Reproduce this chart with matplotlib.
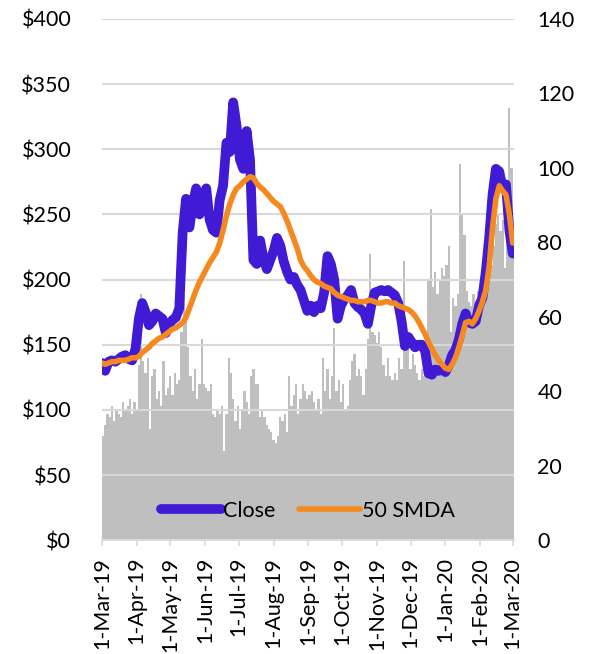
import matplotlib
matplotlib.use("Agg")
import matplotlib.pyplot as plt
import pandas as pd

plt.rcParams['font.family'] = ['Lato', 'DejaVu Sans']

# close price and 50 day average, sampled every 3 days from 1-Mar-19
close = [136, 130, 137, 138, 137, 139, 141, 142, 139, 138,
         147, 170, 182, 175, 165, 168, 174, 172, 170, 159,
         166, 169, 171, 178, 236, 262, 240, 258, 270, 250,
         262, 270, 246, 238, 236, 261, 272, 305, 298, 336,
         318, 292, 285, 314, 292, 215, 212, 230, 216, 208,
         215, 222, 232, 226, 214, 206, 200, 202, 196, 192,
         184, 176, 180, 175, 180, 178, 190, 218, 212, 200,
         170, 180, 185, 188, 192, 182, 179, 177, 174, 166,
         180, 190, 191, 192, 191, 192, 190, 188, 182, 168,
         149, 156, 152, 148, 150, 150, 145, 128, 127, 131,
         130, 131, 129, 134, 142, 146, 154, 166, 174, 167,
         166, 168, 180, 186, 206, 232, 265, 285, 283, 270,
         273, 238, 220]

sma50 = [136, 135, 136, 137, 137, 138, 138, 138, 139, 140,
         140, 141, 144, 146, 148, 151, 153, 155, 156, 158,
         160, 162, 163, 165, 167, 171, 178, 185, 192, 198,
         203, 208, 213, 217, 221, 228, 238, 249, 258, 265,
         270, 272, 275, 277, 279, 278, 274, 271, 269, 266,
         263, 260, 258, 256, 251, 245, 238, 231, 224, 215,
         210, 207, 203, 200, 198, 197, 195, 194, 193, 190,
         188, 187, 186, 185, 184, 184, 183, 183, 183, 184,
         184, 183, 182, 182, 183, 183, 182, 182, 180, 179,
         178, 177, 175, 172, 168, 163, 158, 152, 147, 142,
         138, 135, 132, 131, 135, 140, 148, 157, 167, 168,
         166, 170, 176, 183, 192, 210, 240, 262, 272, 268,
         265, 250, 228]

# grey series on the right axis, every 2 days
volume = [28, 31, 34, 33, 36, 32, 35, 34,
          33, 37, 35, 36, 38, 34, 37, 35,
          47, 66, 48, 45, 49, 30, 44, 46,
          38, 40, 36, 48, 39, 41, 44, 39,
          45, 42, 43, 56, 66, 60, 52, 44,
          40, 46, 38, 42, 54, 42, 41, 40,
          42, 34, 33, 35, 34, 36, 24, 34,
          49, 45, 38, 32, 36, 30, 35, 40,
          37, 34, 44, 46, 42, 42, 33, 35,
          33, 31, 30, 29, 27, 26, 28, 33,
          32, 34, 29, 44, 36, 39, 42, 34,
          38, 42, 40, 38, 39, 40, 37, 35,
          38, 34, 49, 40, 46, 38, 44, 57,
          40, 43, 37, 42, 35, 36, 43, 48,
          50, 44, 46, 44, 39, 46, 54, 77,
          56, 55, 53, 56, 52, 47, 44, 49,
          44, 43, 45, 43, 49, 46, 75, 52,
          54, 46, 50, 47, 45, 43, 46, 44,
          46, 70, 89, 68, 72, 66, 70, 73,
          71, 74, 79, 56, 65, 63, 66, 101,
          88, 82, 67, 64, 63, 66, 64, 67,
          65, 72, 75, 70, 78, 74, 79, 85,
          88, 83, 86, 73, 95, 116, 100, 80]

month_labels = ['1-Mar-19', '1-Apr-19', '1-May-19', '1-Jun-19', '1-Jul-19',
                '1-Aug-19', '1-Sep-19', '1-Oct-19', '1-Nov-19', '1-Dec-19',
                '1-Jan-20', '1-Feb-20', '1-Mar-20']
price_ticks = [0, 50, 100, 150, 200, 250, 300, 350, 400]
vol_ticks = [0, 20, 40, 60, 80, 100, 120, 140]

price_dates = pd.date_range('2019-03-01', periods=len(close), freq='3D')
vol_dates = pd.date_range('2019-03-01', periods=len(volume), freq='2D')
month_dates = pd.date_range('2019-03-01', periods=len(month_labels), freq='MS')

fig = plt.figure(figsize=(5.92, 6.54), dpi=100)
ax1 = fig.add_axes([0.172, 0.174, 0.696, 0.797])
ax2 = ax1.twinx()

# grey bars behind, price axis on top so grid and lines sit over them
ax2.bar(vol_dates, volume, width=2.0, align='edge', color='#bfbfbf', linewidth=0)
ax1.set_zorder(ax2.get_zorder() + 1)
ax1.patch.set_visible(False)

ax1.plot(price_dates, close, color='#401ad4', lw=7, solid_capstyle='round',
         solid_joinstyle='round', label='Close', zorder=3)
ax1.plot(price_dates, sma50, color='#f5891f', lw=4, solid_capstyle='round',
         solid_joinstyle='round', label='50 SMDA', zorder=4)

ax1.set_ylim(0, 400)
ax2.set_ylim(0, 140)
ax1.set_xlim(month_dates[0], month_dates[-1] + pd.Timedelta(days=1))

ax1.set_yticks(price_ticks)
ax1.set_yticklabels(['$' + str(v) for v in price_ticks])
ax2.set_yticks(vol_ticks)
ax1.yaxis.grid(True, color='#d9d9d9', lw=1.5)
ax1.set_axisbelow(False)

ax1.set_xticks(month_dates)
ax1.set_xticklabels(month_labels, rotation=90)

for ax in (ax1, ax2):
    for s in ('top', 'left', 'right'):
        ax.spines[s].set_visible(False)
    ax.spines['bottom'].set_color('#d9d9d9')
    ax.spines['bottom'].set_linewidth(1.2)

fs = 15.5
ax1.tick_params(axis='y', length=0, pad=22, labelsize=fs)
ax2.tick_params(axis='y', length=0, pad=17, labelsize=fs)
ax1.tick_params(axis='x', length=4, color='#d9d9d9', width=1.2, pad=8, labelsize=fs)
ax2.tick_params(axis='x', length=0, labelbottom=False)

leg = ax1.legend(loc='lower center', bbox_to_anchor=(0.5, 0.0), ncol=2, frameon=False,
                 fontsize=fs, handlelength=2.8, handletextpad=0.1, columnspacing=1.1)

fig.savefig('out.png', dpi=100)
